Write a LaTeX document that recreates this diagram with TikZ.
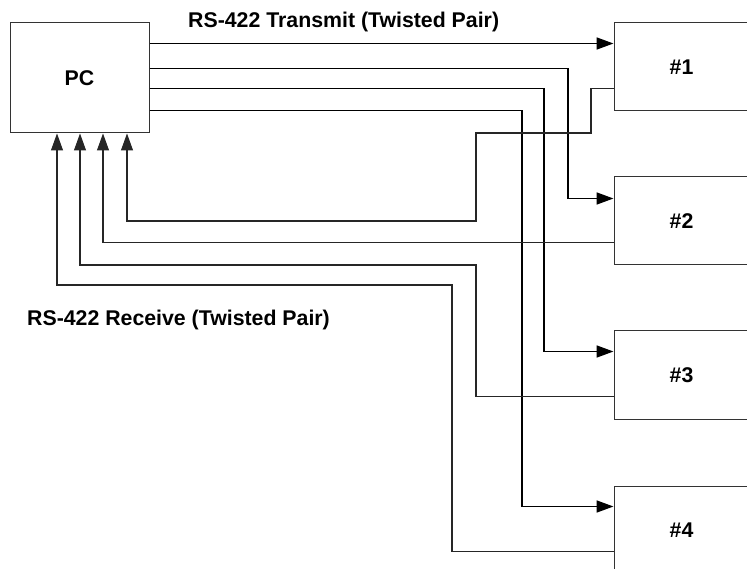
\documentclass[tikz,border=0pt]{standalone}
\usepackage{fontspec}
\setmainfont{Liberation Sans}
\usetikzlibrary{arrows.meta,calc}
\begin{document}
\begin{tikzpicture}[x=1pt,y=-1pt,
  box/.style={draw=black!80,line width=1pt,inner sep=0pt,font=\fontsize{21.3}{25}\selectfont\bfseries},
  dev/.style={box,minimum width=135pt,minimum height=88pt},
  tx/.style={line width=1.7pt,-{Triangle[length=17pt,width=12pt]}},
  rx/.style={line width=1.1pt,draw=black!85,-{Triangle[length=17pt,width=12pt]}},
  lbl/.style={font=\fontsize{21.3}{25}\selectfont\bfseries,inner sep=0pt,anchor=base west}]
\useasboundingbox (0,0) rectangle (747,569);
% nodes
\node[box,minimum width=139pt,minimum height=110pt] (pc) at (79.5,78) {PC};
\node[dev] (d1) at (681.5,67) {\#1};
\node[dev] (d2) at (681.5,221) {\#2};
\node[dev] (d3) at (681.5,375) {\#3};
\node[dev] (d4) at (681.5,530) {\#4};
% labels
\node[lbl] (ltx) at (188,28) {RS-422 Transmit (Twisted Pair)};
\node[lbl] (lrx) at (27,326) {RS-422 Receive (Twisted Pair)};
% transmit
\draw[tx] ($(pc.north east)+(0,21)$) -- ($(d1.north west)+(0,21)$);
\draw[tx] ($(pc.north east)+(0,46)$) -| (568,100) |- ($(d2.north west)+(0,22)$);
\draw[tx] ($(pc.north east)+(0,66)$) -| (544,200) |- ($(d3.north west)+(0,21)$);
\draw[tx] ($(pc.north east)+(0,88)$) -| (522,300) |- ($(d4.north west)+(0,21)$);
% receive
\draw[rx] ($(d1.north west)+(0,66)$) -| (591,133) -| (476,221) -| (pc.south -| 127,0);
\draw[rx] ($(d2.north west)+(0,66)$) -| (pc.south -| 103,0);
\draw[rx] ($(d3.north west)+(0,66)$) -| (476,265) -| (pc.south -| 80,0);
\draw[rx] ($(d4.north west)+(0,66)$) -| (452,285) -| (pc.south -| 57,0);
\end{tikzpicture}
\end{document}
